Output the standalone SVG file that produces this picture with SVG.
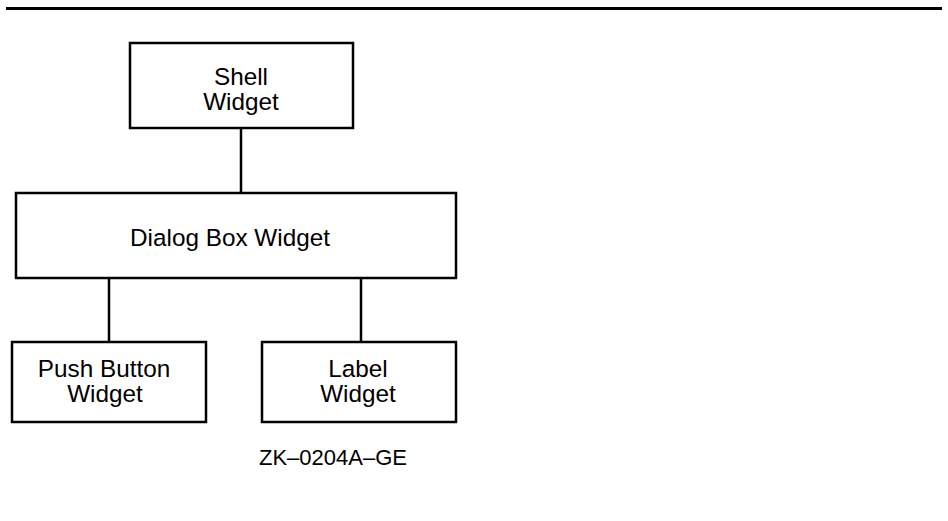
<svg xmlns="http://www.w3.org/2000/svg" width="948" height="521" viewBox="0 0 948 521">
<style>
.box{fill:#fff;stroke:#000;stroke-width:2.5}
.ln{stroke:#000;stroke-width:2.5;fill:none}
text{font-family:"Liberation Sans",Arial,sans-serif;font-size:24.3px;fill:#000;text-anchor:middle}
</style>
<rect width="948" height="521" fill="#fff"/>
<line x1="6" y1="8.5" x2="942" y2="8.5" stroke="#000" stroke-width="3"/>
<g id="connectors">
<line class="ln" x1="241" y1="128" x2="241" y2="193"/>
<line class="ln" x1="109" y1="278" x2="109" y2="342"/>
<line class="ln" x1="361" y1="278" x2="361" y2="342"/>
</g>
<g id="shell">
<rect class="box" x="130" y="43" width="223" height="85"/>
<text x="241" y="84.5">Shell</text>
<text x="241" y="109.5">Widget</text>
</g>
<g id="dialog">
<rect class="box" x="16" y="193" width="440" height="85"/>
<text x="230" y="246">Dialog Box Widget</text>
</g>
<g id="pushbutton">
<rect class="box" x="12" y="342" width="194" height="80"/>
<text x="104" y="376.5">Push Button</text>
<text x="105" y="401.5">Widget</text>
</g>
<g id="label">
<rect class="box" x="262" y="342" width="194" height="80"/>
<text x="358" y="376.5">Label</text>
<text x="358" y="401.5">Widget</text>
</g>
<text x="333" y="465" style="font-size:22px">ZK–0204A–GE</text>
</svg>
